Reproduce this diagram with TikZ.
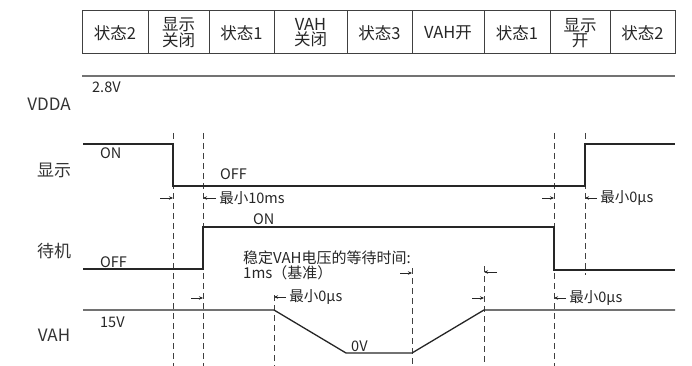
\documentclass[tikz,border=0pt]{standalone}
\usepackage{fontspec}
\setmainfont{Noto Sans CJK SC}
\usetikzlibrary{arrows.meta}

\tikzset{
	sig/.style={line width=1.3pt, black!85},
	rail/.style={line width=2pt, black!55},
	guide/.style={dash pattern=on 6pt off 4pt, line width=0.9pt, black!75},
	gaparrow/.style={-{Stealth[length=4pt,width=3.5pt]}, line width=0.8pt, black!85},
	cell/.style={font=\fontsize{16.5}{15}\selectfont, align=center, text=black!85, inner sep=0pt},
	signame/.style={font=\fontsize{17}{18}\selectfont, text=black!80, inner sep=0pt},
	lbl/.style={font=\fontsize{14.5}{16}\selectfont, text=black!85, inner sep=0pt, anchor=west}
}

\begin{document}
\begin{tikzpicture}[x=1pt, y=-1pt]

		\useasboundingbox (0,0) rectangle (692,366);

		% tabella degli stati
		\draw[black!75, line width=1pt] (82,11) rectangle (675,54);
		\foreach \x in {148,209,274,347,412,484,550,610}
			\draw[black!75, line width=1pt] (\x,11) -- (\x,54);
		\foreach \l/\r/\t [count=\i] in {82/148/状态2, 148/209/{显示\\关闭}, 209/274/状态1,
				274/347/{VAH\\关闭}, 347/412/状态3, 412/484/VAH开, 484/550/状态1,
				550/610/{显示\\开}, 610/675/状态2}
			\node[cell] (c\i) at ({(\l+\r)/2},33) {\t};

		% nomi dei segnali
		\node[signame] (vdda) at (49,104) {VDDA};
		\node[signame] (disp) at (54,170) {显示};
		\node[signame] (stby) at (54,251) {待机};
		\node[signame] (vah) at (54,335) {VAH};

		% linee guida
		\draw[guide] (173,133) -- (173,366);
		\draw[guide] (203,133) -- (203,366);
		\draw[guide] (274,295) -- (274,366);
		\draw[guide] (412,268) -- (412,366);
		\draw[guide] (484,266) -- (484,366);
		\draw[guide] (554,133) -- (554,366);
		\draw[guide] (585,133) -- (585,275);

		% forme d'onda
		\draw[rail] (82,76) -- (675,76);
		\node[lbl] (vddaLevel) at (92,87) {2.8V};

		\draw[sig] (83,144) -- (173,144) -- (173,186) -- (585,186) -- (585,144) -- (675,144);
		\node[lbl] (dispOn) at (100,153) {ON};
		\node[lbl] (dispOff) at (220,174) {OFF};

		\draw[sig] (83,269) -- (203,269) -- (203,227) -- (554,227) -- (554,270) -- (675,270);
		\node[lbl] (stbyOn) at (253,219) {ON};
		\node[lbl] (stbyOff) at (100,262) {OFF};

		\draw[sig] (83,310) -- (274,310) -- (346,353) -- (412,353) -- (484,310) -- (675,310);
		\node[lbl] (vahHigh) at (100,322) {15V};
		\node[lbl] (vahLow) at (351,346) {0V};

		% tempi minimi
		\draw[gaparrow] (160,198) -- (173,198);
		\draw[gaparrow] (216,198) node[lbl, right=3pt] (tDisp) {最小10ms} -- (203,198);
		\draw[gaparrow] (542,198) -- (554,198);
		\draw[gaparrow] (597,198) node[lbl, right=3pt] (tDispOn) {最小0μs} -- (585,198);
		\draw[gaparrow] (191,298) -- (203,298);
		\draw[gaparrow] (286,297) node[lbl, right=3pt] (tVahOff) {最小0μs} -- (274,297);
		\draw[gaparrow] (400,273) -- (412,273);
		\draw[gaparrow] (497,272) -- (484,272);
		\draw[gaparrow] (472,298) -- (484,298);
		\draw[gaparrow] (566,298) node[lbl, right=3pt] (tVahOn) {最小0μs} -- (554,298);

		\node[lbl, align=left, font=\fontsize{15}{15}\selectfont] (wait) at (243,265) {稳定VAH电压的等待时间:\\1ms（基准）};

	\end{tikzpicture}
\end{document}
